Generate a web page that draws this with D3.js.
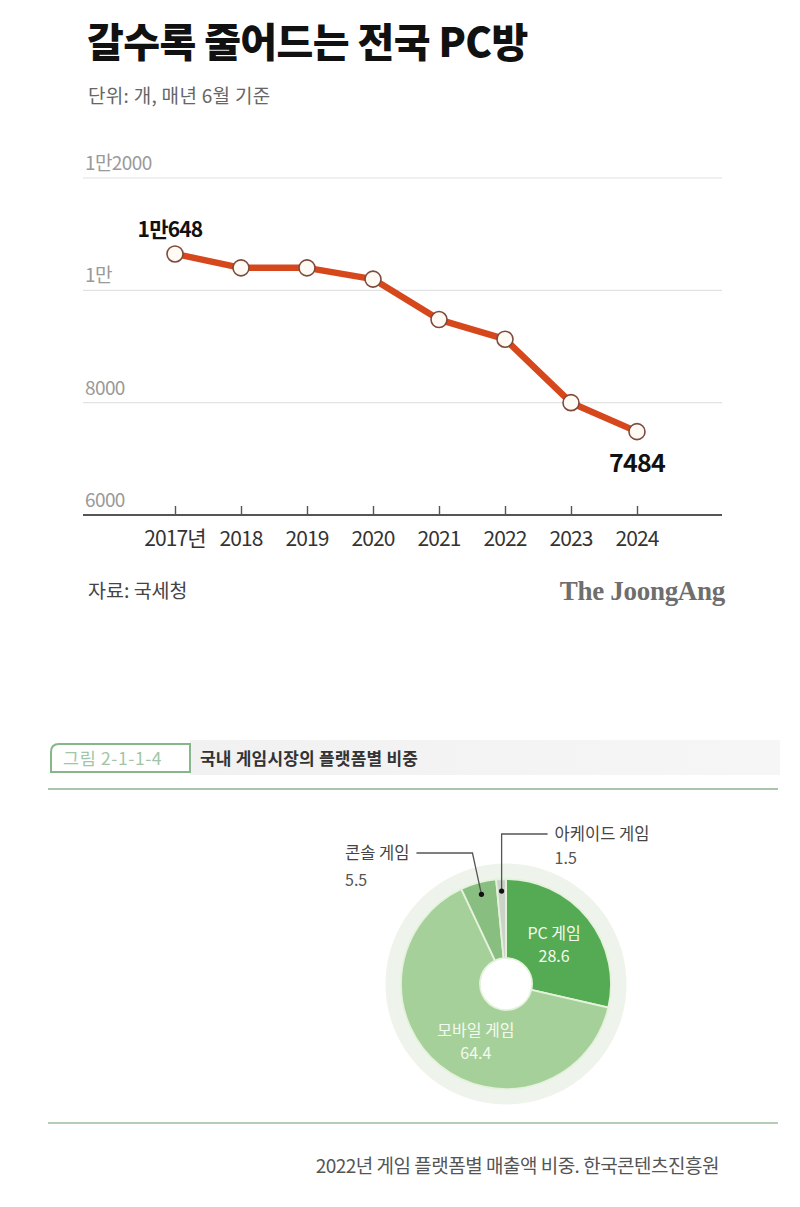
<!DOCTYPE html>
<html>
<head>
<meta charset="utf-8">
<script src="https://cdn.jsdelivr.net/npm/d3@7"></script>
<style>
  html, body { margin: 0; padding: 0; background: #fff; }
  svg { display: block; }
  text { font-family: "Noto Sans CJK KR", "Noto Sans", sans-serif; }
</style>
</head>
<body>
<svg id="chart" width="800" height="1207"></svg>
<script>
// ---------- data ----------
const years = ["2017년", "2018", "2019", "2020", "2021", "2022", "2023", "2024"];
const pcbangCounts = [10648, 10400, 10400, 10200, 9480, 9130, 8000, 7484];
const yTickValues = [6000, 8000, 10000, 12000];
const yTickLabels = ["6000", "8000", "1만", "1만2000"];
const labeledPoints = { 0: "1만648", 7: "7484" };

const platforms = ["PC 게임", "모바일 게임", "콘솔 게임", "아케이드 게임"];
const platformShares = [28.6, 64.4, 5.5, 1.5];
const platformLabels = ["28.6", "64.4", "5.5", "1.5"];
const platformColors = ["#55ab53", "#a6d099", "#88be80", "#cbd2c8"];

// ---------- top chart ----------
const svg = d3.select("#chart");

svg.append("text").attr("x", 87).attr("y", 57)
  .attr("font-size", 40).attr("font-weight", 900).attr("fill", "#111")
  .attr("letter-spacing", -0.6)
  .text("갈수록 줄어드는 전국 PC방");

svg.append("text").attr("x", 88).attr("y", 103)
  .attr("font-size", 19).attr("fill", "#666").attr("letter-spacing", 0.3)
  .text("단위: 개, 매년 6월 기준");

const x = d3.scalePoint().domain(years).range([175, 637]);
const y = d3.scaleLinear().domain([6000, 12000]).range([515, 178]);
const gridLeft = 83, gridRight = 722;

const grid = svg.append("g");
yTickValues.forEach((v, i) => {
  if (v !== 6000) {
    grid.append("line")
      .attr("x1", gridLeft).attr("x2", gridRight)
      .attr("y1", y(v)).attr("y2", y(v))
      .attr("stroke", "#e2e2e2").attr("stroke-width", 1.2);
  }
  grid.append("text").attr("x", 85).attr("y", y(v) - 8)
    .attr("font-size", 19).attr("fill", "#9a9a9a").attr("letter-spacing", -0.6)
    .text(yTickLabels[i]);
});

// x axis baseline with upward ticks
const xAxis = d3.axisTop(x).tickSize(9).tickFormat("");
const gx = svg.append("g").attr("transform", `translate(0,${y(6000)})`).call(xAxis);
gx.select(".domain").remove();
gx.selectAll(".tick line").attr("stroke", "#555").attr("stroke-width", 1.4);
svg.append("line").attr("x1", gridLeft).attr("x2", gridRight)
  .attr("y1", y(6000)).attr("y2", y(6000))
  .attr("stroke", "#555").attr("stroke-width", 2);

years.forEach(yr => {
  svg.append("text").attr("x", x(yr)).attr("y", 546)
    .attr("text-anchor", "middle").attr("font-size", 21).attr("fill", "#333")
    .attr("letter-spacing", -0.9)
    .text(yr);
});

const line = d3.line().x((d, i) => x(years[i])).y(d => y(d));
svg.append("path").datum(pcbangCounts)
  .attr("d", line).attr("fill", "none")
  .attr("stroke", "#d6481c").attr("stroke-width", 6.5)
  .attr("stroke-linejoin", "round");

svg.selectAll("circle.pt").data(pcbangCounts).enter().append("circle")
  .attr("class", "pt")
  .attr("cx", (d, i) => x(years[i])).attr("cy", d => y(d))
  .attr("r", 8).attr("fill", "#fffaf4")
  .attr("stroke", "#7d4a3c").attr("stroke-width", 1.6);

Object.entries(labeledPoints).forEach(([i, lbl]) => {
  i = +i;
  const first = i === 0;
  svg.append("text")
    .attr("x", x(years[i]) + (first ? -5 : 0))
    .attr("y", first ? y(pcbangCounts[i]) - 17 : y(pcbangCounts[i]) + 40)
    .attr("text-anchor", "middle")
    .attr("font-size", first ? 21 : 25).attr("font-weight", 700)
    .attr("fill", "#111").attr("letter-spacing", -0.8)
    .text(lbl);
});

svg.append("text").attr("x", 88).attr("y", 598)
  .attr("font-size", 19.5).attr("fill", "#444")
  .text("자료: 국세청");
svg.append("text").attr("x", 725).attr("y", 600)
  .attr("text-anchor", "end")
  .style("font-family", "'Liberation Serif', 'DejaVu Serif', serif")
  .attr("font-size", 27).attr("font-weight", 700).attr("fill", "#6e6e6e")
  .attr("letter-spacing", -0.3)
  .text("The JoongAng");

// ---------- bottom chart ----------
const defs = svg.append("defs");
const grad = defs.append("linearGradient").attr("id", "band");
grad.append("stop").attr("offset", "0%").attr("stop-color", "#f1f1f1");
grad.append("stop").attr("offset", "100%").attr("stop-color", "#f6f6f6");

svg.append("rect").attr("x", 190).attr("y", 740).attr("width", 590).attr("height", 35)
  .attr("fill", "url(#band)");
svg.append("path")
  .attr("d", "M51,772 L51,752 Q51,744 59,744 L190,744 L190,772 Z")
  .attr("fill", "#fff").attr("stroke", "#86b78b").attr("stroke-width", 2);
svg.append("text").attr("x", 63).attr("y", 765)
  .attr("font-size", 17.5).attr("fill", "#a3c5a6").attr("letter-spacing", 0.6)
  .text("그림 2-1-1-4");
svg.append("text").attr("x", 200).attr("y", 765)
  .attr("font-size", 17).attr("font-weight", 700).attr("fill", "#333")
  .attr("letter-spacing", 0.2)
  .text("국내 게임시장의 플랫폼별 비중");
svg.append("line").attr("x1", 48).attr("x2", 778).attr("y1", 789).attr("y2", 789)
  .attr("stroke", "#a9c6ac").attr("stroke-width", 2);

const cx = 506, cy = 984, rOuter = 105, rInner = 26;
const pie = d3.pie().sort(null).value(d => d)(platformShares);
const arc = d3.arc().innerRadius(rInner).outerRadius(rOuter);
const g = svg.append("g").attr("transform", `translate(${cx},${cy})`);

g.append("circle").attr("r", rOuter + 8).attr("fill", "none")
  .attr("stroke", "#eef4eb").attr("stroke-width", 15);

g.selectAll("path.slice").data(pie).enter().append("path")
  .attr("class", "slice").attr("d", arc)
  .attr("fill", (d, i) => platformColors[i])
  .attr("stroke", "#e4f2dc").attr("stroke-width", 1.8);

// inside labels
const innerLabelArc = d3.arc().innerRadius(64).outerRadius(64);
const innerAdjust = [[-2, 2], [10, 9]];
[0, 1].forEach(i => {
  const [px, py] = innerLabelArc.centroid(pie[i]);
  const tx = px + innerAdjust[i][0], ty = py + innerAdjust[i][1];
  g.append("text").attr("x", tx).attr("y", ty - 7)
    .attr("text-anchor", "middle").attr("font-size", 16).attr("fill", "#f4faf0")
    .text(platforms[i]);
  g.append("text").attr("x", tx).attr("y", ty + 16)
    .attr("text-anchor", "middle").attr("font-size", 16).attr("fill", "#f4faf0")
    .text(platformLabels[i]);
});

// outside labels with leader lines
const dotArc = d3.arc().innerRadius(93).outerRadius(93);
// console
(function () {
  const [dx, dy] = dotArc.centroid(pie[2]);
  const elbow = [dx - 9, -131];
  g.append("polyline")
    .attr("points", `${dx},${dy} ${elbow[0]},${elbow[1]} ${elbow[0] - 56},${elbow[1]}`)
    .attr("fill", "none").attr("stroke", "#555").attr("stroke-width", 1.3);
  g.append("circle").attr("cx", dx).attr("cy", dy).attr("r", 2.6).attr("fill", "#111");
  const t = g.append("text").attr("y", elbow[1] + 6)
    .attr("font-size", 16.5).attr("fill", "#444").text(platforms[2]);
  const w = t.node().getComputedTextLength();
  const left = elbow[0] - 63 - w;
  t.attr("x", left);
  g.append("text").attr("x", left).attr("y", elbow[1] + 33)
    .attr("font-size", 16).attr("fill", "#555").text(platformLabels[2]);
})();
// arcade
(function () {
  const [dx, dy] = dotArc.centroid(pie[3]);
  const elbow = [dx, -150];
  g.append("polyline")
    .attr("points", `${dx},${dy} ${elbow[0]},${elbow[1]} ${elbow[0] + 46},${elbow[1]}`)
    .attr("fill", "none").attr("stroke", "#555").attr("stroke-width", 1.3);
  g.append("circle").attr("cx", dx).attr("cy", dy).attr("r", 2.6).attr("fill", "#111");
  g.append("text").attr("x", elbow[0] + 53).attr("y", elbow[1] + 6)
    .attr("font-size", 16.5).attr("fill", "#444").text(platforms[3]);
  g.append("text").attr("x", elbow[0] + 53).attr("y", elbow[1] + 30)
    .attr("font-size", 16).attr("fill", "#555").text(platformLabels[3]);
})();

svg.append("line").attr("x1", 48).attr("x2", 778).attr("y1", 1123).attr("y2", 1123)
  .attr("stroke", "#b5cdb7").attr("stroke-width", 2);

svg.append("text").attr("x", 719).attr("y", 1173)
  .attr("text-anchor", "end").attr("font-size", 19).attr("fill", "#555")
  .attr("letter-spacing", -0.5)
  .text("2022년 게임 플랫폼별 매출액 비중. 한국콘텐츠진흥원");
</script>
</body>
</html>
